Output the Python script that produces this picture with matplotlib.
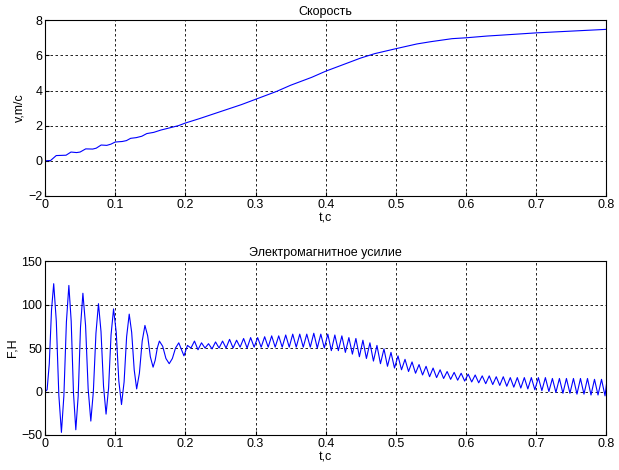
import matplotlib
matplotlib.use("Agg")
import matplotlib.pyplot as plt

plt.rcParams['font.family'] = ['Liberation Sans', 'DejaVu Sans']
plt.rcParams['font.size'] = 8

# Скорость v(t), m/c
t_v = [0.0, 0.008, 0.016, 0.03, 0.037, 0.045, 0.05, 0.058, 0.068, 0.073, 0.08, 0.088,
       0.094, 0.1, 0.11, 0.116, 0.122, 0.13, 0.138, 0.145, 0.155, 0.165, 0.175, 0.19,
       0.2, 0.22, 0.25, 0.28, 0.3, 0.33, 0.35, 0.38, 0.4, 0.43, 0.45, 0.47, 0.5, 0.53,
       0.55, 0.58, 0.6, 0.63, 0.65, 0.7, 0.75, 0.8]
v = [0.0, 0.02, 0.3, 0.32, 0.5, 0.47, 0.5, 0.68, 0.67, 0.72, 0.9, 0.88,
     0.95, 1.07, 1.1, 1.15, 1.28, 1.32, 1.4, 1.55, 1.62, 1.75, 1.85, 2.0,
     2.15, 2.4, 2.8, 3.2, 3.5, 3.95, 4.3, 4.75, 5.1, 5.55, 5.85, 6.1, 6.38, 6.65,
     6.78, 6.95, 7.0, 7.1, 7.15, 7.28, 7.38, 7.48]

# Электромагнитное усилие F(t), H: first 0.2 s (large oscillation)
t_f0 = [0.0, 0.003, 0.0061, 0.0093, 0.0124, 0.0161, 0.0197, 0.0234, 0.0269, 0.0305,
        0.034, 0.0373, 0.0406, 0.0439, 0.0473, 0.0506, 0.054, 0.0578, 0.0615, 0.0653,
        0.0689, 0.0726, 0.0762, 0.0798, 0.0834, 0.087, 0.0906, 0.0941, 0.0977, 0.1015,
        0.1052, 0.109, 0.1127, 0.1163, 0.12, 0.1235, 0.1271, 0.1306, 0.1345, 0.1385,
        0.1424, 0.1463, 0.1501, 0.154, 0.157, 0.16, 0.163, 0.1677, 0.1723, 0.177,
        0.1815, 0.186, 0.1906, 0.198]
f0 = [0, 2, 32, 94, 124, 81, -4, -47, -5, 80,
      122, 81, -2, -44, -5, 74, 113, 76, 3, -34,
      0, 67, 101, 69, 6, -26, 4, 65, 95, 68,
      12, -15, 11, 63, 89, 68, 25, 3, 21, 58,
      76, 64, 40, 28, 36, 50, 58, 52, 38, 32,
      38, 50, 56, 41]

# later oscillation: peaks
t_pk = [0.203, 0.213, 0.223, 0.233, 0.243, 0.253, 0.263, 0.273, 0.283, 0.293,
        0.303, 0.313, 0.323, 0.333, 0.343, 0.353, 0.363, 0.373, 0.383, 0.393,
        0.403, 0.413, 0.423, 0.433, 0.443, 0.453, 0.463, 0.473, 0.483, 0.493,
        0.503, 0.513, 0.523, 0.533, 0.543, 0.553, 0.563, 0.573, 0.583, 0.593,
        0.603, 0.613, 0.623, 0.633, 0.643, 0.653, 0.663, 0.673, 0.683, 0.693,
        0.703, 0.713, 0.723, 0.733, 0.743, 0.753, 0.763, 0.773, 0.783, 0.793]
f_pk = [53, 58, 56, 55, 57, 58, 60, 59, 61, 62,
        62, 63, 64, 64, 65, 66, 66, 66, 67, 66,
        66, 65, 64, 62, 61, 59, 56, 53, 49, 45,
        41, 37, 34, 31, 29, 27, 25, 23, 22, 21,
        20, 19, 18, 18, 17, 17, 16, 16, 16, 16,
        16, 16, 15, 15, 15, 15, 15, 15, 14, 14]

# later oscillation: troughs
t_tr = [0.208, 0.218, 0.228, 0.238, 0.248, 0.258, 0.268, 0.278, 0.288, 0.298,
        0.308, 0.318, 0.328, 0.338, 0.348, 0.358, 0.368, 0.378, 0.388, 0.398,
        0.408, 0.418, 0.428, 0.438, 0.448, 0.458, 0.468, 0.478, 0.488, 0.498,
        0.508, 0.518, 0.528, 0.538, 0.548, 0.558, 0.568, 0.578, 0.588, 0.598,
        0.608, 0.618, 0.628, 0.638, 0.648, 0.658, 0.668, 0.678, 0.688, 0.698,
        0.708, 0.718, 0.728, 0.738, 0.748, 0.758, 0.768, 0.778, 0.788, 0.798]
f_tr = [50, 48, 50, 49, 50, 50, 50, 51, 50, 51,
        51, 51, 51, 51, 51, 51, 51, 51, 50, 50,
        47, 47, 45, 43, 40, 38, 35, 32, 29, 27,
        25, 23, 21, 19, 17, 16, 15, 14, 13, 12,
        11, 10, 9, 8, 7, 6, 5, 4, 3, 2,
        1, 0, -1, -2, -2, -3, -3, -4, -4, -5]

t_end = [0.8]
f_end = [8]

# merge in time order
t_f = list(t_f0)
f = list(f0)
for a, b, c, d in zip(t_pk, f_pk, t_tr, f_tr):
    t_f += [a, c]
    f += [b, d]
t_f += t_end
f += f_end

fig = plt.figure(figsize=(6.19, 4.70), dpi=100)
ax1 = fig.add_axes([0.0727, 0.583, 0.907, 0.374])
ax2 = fig.add_axes([0.0727, 0.0745, 0.907, 0.370])

ax1.plot(t_v, v, color='#0000ff', linewidth=0.8)
ax1.set_xlim(0, 0.8)
ax1.set_ylim(-2, 8)
ax1.set_yticks([-2, 0, 2, 4, 6, 8])
ax1.set_title('Скорость', fontsize=9, pad=4)
ax1.set_xlabel('t,c', fontsize=9, labelpad=1)
ax1.set_ylabel('v,m/c', fontsize=9, labelpad=2)

ax2.plot(t_f, f, color='#0000ff', linewidth=0.8)
ax2.set_xlim(0, 0.8)
ax2.set_ylim(-50, 150)
ax2.set_yticks([-50, 0, 50, 100, 150])
ax2.set_title('Электромагнитное усилие', fontsize=9, pad=4)
ax2.set_xlabel('t,c', fontsize=9, labelpad=1)
ax2.set_ylabel('F,H', fontsize=9, labelpad=2)

for ax in (ax1, ax2):
    ax.set_xticks([0, 0.1, 0.2, 0.3, 0.4, 0.5, 0.6, 0.7, 0.8])
    ax.set_xticklabels(['0', '0.1', '0.2', '0.3', '0.4', '0.5', '0.6', '0.7', '0.8'])
    ax.grid(True, color='black', linestyle=(0, (3, 3)), linewidth=0.6)
    ax.tick_params(direction='in', length=3, labelsize=9, pad=2)
    for s in ax.spines.values():
        s.set_linewidth(0.8)

plt.savefig('out.png', dpi=100)
